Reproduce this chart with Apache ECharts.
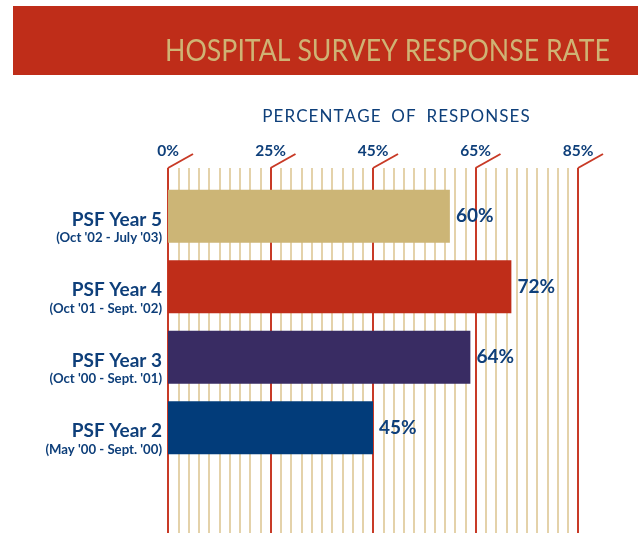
<!DOCTYPE html>
<html>
<head>
<meta charset="utf-8">
<script src="https://cdn.jsdelivr.net/npm/echarts@6/dist/echarts.min.js"></script>
<style>
html,body{margin:0;padding:0;background:#fff;}
#chart{width:638px;height:533px;}
</style>
</head>
<body>
<div id="chart"></div>
<script>
// ---- data ----
const categories = ['PSF Year 5', 'PSF Year 4', 'PSF Year 3', 'PSF Year 2'];
const periods = ["(Oct '02 - July '03)", "(Oct '01 - Sept. '02)", "(Oct '00 - Sept. '01)", "(May '00 - Sept. '00)"];
const responseRates = [60, 72, 64, 45];
const barColors = ['#ccb576', '#bf2d19', '#392c63', '#023c7a'];
const tickValues = [5, 25, 45, 65, 85];
const tickLabels = ['0%', '25%', '45%', '65%', '85%'];

const NAVY = '#0e3f7a';
const FONT = 'Lato, "Open Sans", sans-serif';

const chart = echarts.init(document.getElementById('chart'), null, {renderer: 'canvas'});

const spaced = 'PERCENTAGE OF RESPONSES'.split('').map(function (c) { return c === ' ' ? '  ' : c; }).join('\u200A');

const option = {
  backgroundColor: '#ffffff',
  animation: false,
  graphic: [
    { type: 'rect', shape: { x: 13, y: 6, width: 625, height: 69 }, style: { fill: '#bf2d19' }, z: 0 },
    { type: 'text', x: 610, y: 66, scaleX: 0.89, style: { text: 'HOSPITAL SURVEY RESPONSE RATE', fill: '#cfb374',
        font: '400 30px ' + FONT, textAlign: 'right', textVerticalAlign: 'bottom' }, z: 1 },
    { type: 'text', x: 396, y: 117, style: { text: spaced, fill: NAVY,
        font: '400 17px ' + FONT, textAlign: 'center', textVerticalAlign: 'middle' }, z: 1 }
  ],
  grid: [
    { left: 168, right: 60, top: 168, bottom: 0 },
    { left: 168, right: 60, top: 181, height: 282 }
  ],
  xAxis: [
    {
      gridIndex: 0, type: 'value', position: 'top', min: 5, max: 85, interval: 20,
      axisLine: { show: false }, axisTick: { show: false },
      axisLabel: {
        margin: 9, color: NAVY, fontFamily: FONT, fontWeight: 'bold', fontSize: 15.5,
        formatter: function (v) { const i = tickValues.indexOf(v); return i >= 0 ? tickLabels[i] : ''; }
      },
      splitLine: { show: true, lineStyle: { color: '#c83a26', width: 2 } },
      minorTick: { show: false, splitNumber: 10 },
      minorSplitLine: { show: true, lineStyle: { color: '#dbc48e', width: 1.5 } }
    },
    { gridIndex: 1, type: 'value', min: 5, max: 85, show: false }
  ],
  yAxis: [
    { gridIndex: 0, type: 'value', min: 0, max: 1, show: false },
    {
      gridIndex: 1, type: 'category', inverse: true, data: categories,
      axisLine: { show: false }, axisTick: { show: false },
      axisLabel: {
        margin: 6, align: 'right', padding: [23, 0, 0, 0],
        formatter: function (v, i) { return '{a|' + v + '}\n{b|' + periods[i] + '}'; },
        rich: {
          a: { fontSize: 19, fontWeight: 'bold', color: NAVY, fontFamily: FONT, lineHeight: 20, align: 'right' },
          b: { fontSize: 13.2, fontWeight: 'bold', color: NAVY, fontFamily: FONT, lineHeight: 16, align: 'right' }
        }
      }
    }
  ],
  series: [
    {
      type: 'custom', xAxisIndex: 0, yAxisIndex: 0, clip: false, silent: true,
      data: tickValues,
      renderItem: function (params, api) {
        const p = api.coord([api.value(0), 1]);
        return { type: 'line', shape: { x1: p[0], y1: p[1], x2: p[0] + 25, y2: p[1] - 14 },
                 style: { stroke: '#c83a26', lineWidth: 2 } };
      },
      z: 3
    },
    {
      type: 'bar', xAxisIndex: 1, yAxisIndex: 1, barWidth: 53,
      data: responseRates.map(function (v, i) { return { value: v, itemStyle: { color: barColors[i] } }; }),
      label: {
        show: true, position: 'right', distance: 6, formatter: '{c}%',
        color: NAVY, fontFamily: FONT, fontWeight: 'bold', fontSize: 19
      },
      z: 2
    }
  ]
};
chart.setOption(option);
</script>
</body>
</html>
